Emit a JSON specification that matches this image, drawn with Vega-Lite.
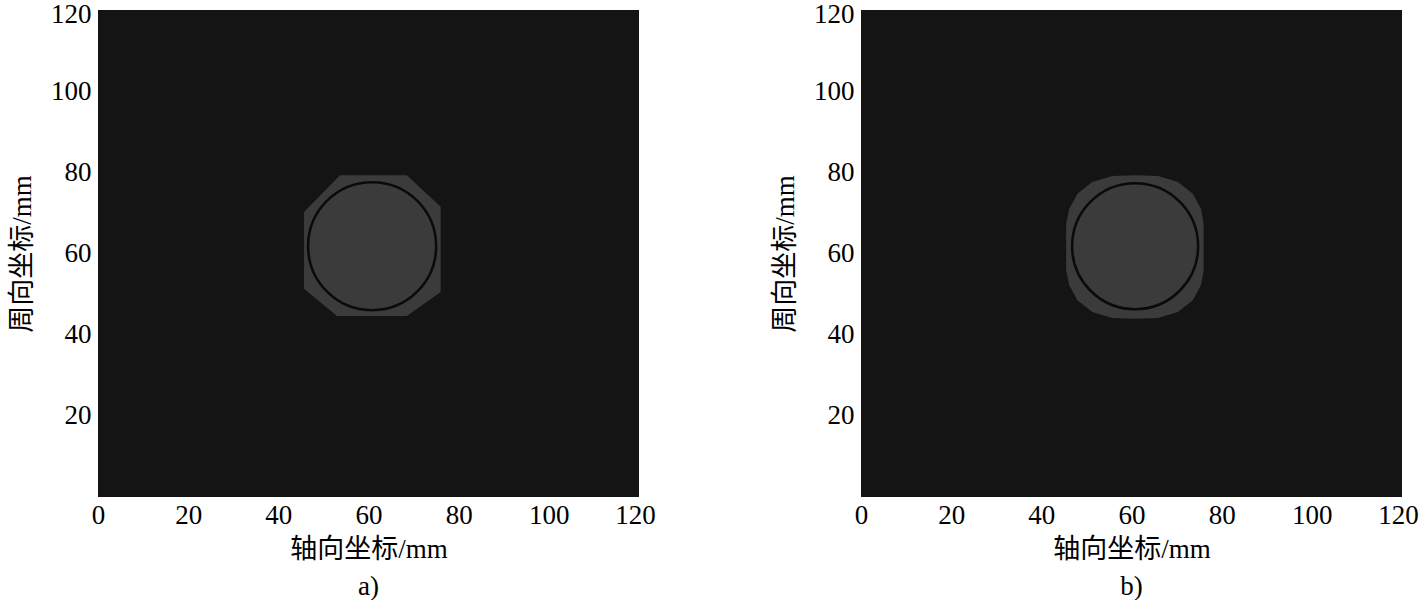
{
  "$schema": "https://vega.github.io/schema/vega-lite/v6.json",
  "padding": {"left": 8, "top": 0, "right": 0, "bottom": 0},
  "background": "white",
  "datasets": {
    "shapeA": [
      {"x": 53.7, "y": 79.3, "i": 1},
      {"x": 68.5, "y": 79.3, "i": 2},
      {"x": 76.0, "y": 71.5, "i": 3},
      {"x": 76.0, "y": 50.5, "i": 4},
      {"x": 68.5, "y": 44.6, "i": 5},
      {"x": 53.0, "y": 44.6, "i": 6},
      {"x": 45.7, "y": 51.3, "i": 7},
      {"x": 45.7, "y": 70.2, "i": 8}
    ],
    "circleA": [{"x": 60.8, "y": 61.8}],
    "shapeB": [
      {"x": 60.8, "y": 79.3, "i": 1},
      {"x": 65.9, "y": 79.1, "i": 2},
      {"x": 70.3, "y": 77.6, "i": 3},
      {"x": 73.6, "y": 74.7, "i": 4},
      {"x": 75.4, "y": 71.0, "i": 5},
      {"x": 76.0, "y": 67.3, "i": 6},
      {"x": 76.0, "y": 55.9, "i": 7},
      {"x": 75.4, "y": 52.2, "i": 8},
      {"x": 73.6, "y": 48.5, "i": 9},
      {"x": 70.3, "y": 45.6, "i": 10},
      {"x": 65.9, "y": 44.1, "i": 11},
      {"x": 60.8, "y": 43.9, "i": 12},
      {"x": 55.7, "y": 44.1, "i": 13},
      {"x": 51.3, "y": 45.6, "i": 14},
      {"x": 48.0, "y": 48.5, "i": 15},
      {"x": 46.2, "y": 52.2, "i": 16},
      {"x": 45.5, "y": 55.9, "i": 17},
      {"x": 45.5, "y": 67.3, "i": 18},
      {"x": 46.2, "y": 71.0, "i": 19},
      {"x": 48.0, "y": 74.7, "i": 20},
      {"x": 51.3, "y": 77.6, "i": 21},
      {"x": 55.7, "y": 79.1, "i": 22}
    ],
    "circleB": [{"x": 60.8, "y": 61.8}]
  },
  "spacing": 115,
  "hconcat": [
    {
      "width": 541,
      "height": 487,
      "title": {"text": "a)", "orient": "bottom"},
      "layer": [
        {
          "data": {"name": "shapeA"},
          "mark": {"type": "line", "fill": "#3b3b3b", "stroke": null, "strokeWidth": 0, "interpolate": "linear-closed"},
          "encoding": {
            "x": {"field": "x", "type": "quantitative", "scale": {"domain": [0, 120]}, "axis": {"values": [0, 20, 40, 60, 80, 100, 120], "title": "轴向坐标/mm"}},
            "y": {"field": "y", "type": "quantitative", "scale": {"domain": [0, 120]}, "axis": {"values": [20, 40, 60, 80, 100, 120], "title": "周向坐标/mm"}},
            "order": {"field": "i", "type": "quantitative"}
          }
        },
        {
          "data": {"name": "circleA"},
          "mark": {"type": "point", "shape": "circle", "filled": false, "size": 16384, "stroke": "#0a0a0a", "strokeWidth": 2.5, "opacity": 1},
          "encoding": {
            "x": {"field": "x", "type": "quantitative"},
            "y": {"field": "y", "type": "quantitative"}
          }
        }
      ]
    },
    {
      "width": 541,
      "height": 487,
      "title": {"text": "b)", "orient": "bottom"},
      "layer": [
        {
          "data": {"name": "shapeB"},
          "mark": {"type": "line", "fill": "#3b3b3b", "stroke": null, "strokeWidth": 0, "interpolate": "linear-closed"},
          "encoding": {
            "x": {"field": "x", "type": "quantitative", "scale": {"domain": [0, 120]}, "axis": {"values": [0, 20, 40, 60, 80, 100, 120], "title": "轴向坐标/mm"}},
            "y": {"field": "y", "type": "quantitative", "scale": {"domain": [0, 120]}, "axis": {"values": [20, 40, 60, 80, 100, 120], "title": "周向坐标/mm"}},
            "order": {"field": "i", "type": "quantitative"}
          }
        },
        {
          "data": {"name": "circleB"},
          "mark": {"type": "point", "shape": "circle", "filled": false, "size": 15876, "stroke": "#0a0a0a", "strokeWidth": 2.5, "opacity": 1},
          "encoding": {
            "x": {"field": "x", "type": "quantitative"},
            "y": {"field": "y", "type": "quantitative"}
          }
        }
      ]
    }
  ],
  "config": {
    "view": {"fill": "#141414", "stroke": null},
    "font": "Liberation Serif, Noto Sans CJK SC",
    "axis": {
      "grid": false,
      "ticks": false,
      "domain": false,
      "labelFont": "Liberation Serif",
      "labelFontSize": 27,
      "labelColor": "#000000",
      "titleFont": "Liberation Serif, Noto Sans CJK SC",
      "titleFontSize": 27,
      "titleFontWeight": "normal",
      "titleColor": "#000000",
      "labelFlush": false,
      "labelOverlap": false
    },
    "axisX": {"labelPadding": 5, "titlePadding": 8, "labelOffset": {"condition": {"test": "datum.value == 120", "value": -4}, "value": 0}},
    "axisY": {"labelPadding": 7, "titlePadding": 14, "labelOffset": {"condition": {"test": "datum.value == 120", "value": 4}, "value": 0}},
    "title": {"font": "Liberation Serif", "fontSize": 27, "fontWeight": "normal", "color": "#000000", "offset": 12}
  }
}
